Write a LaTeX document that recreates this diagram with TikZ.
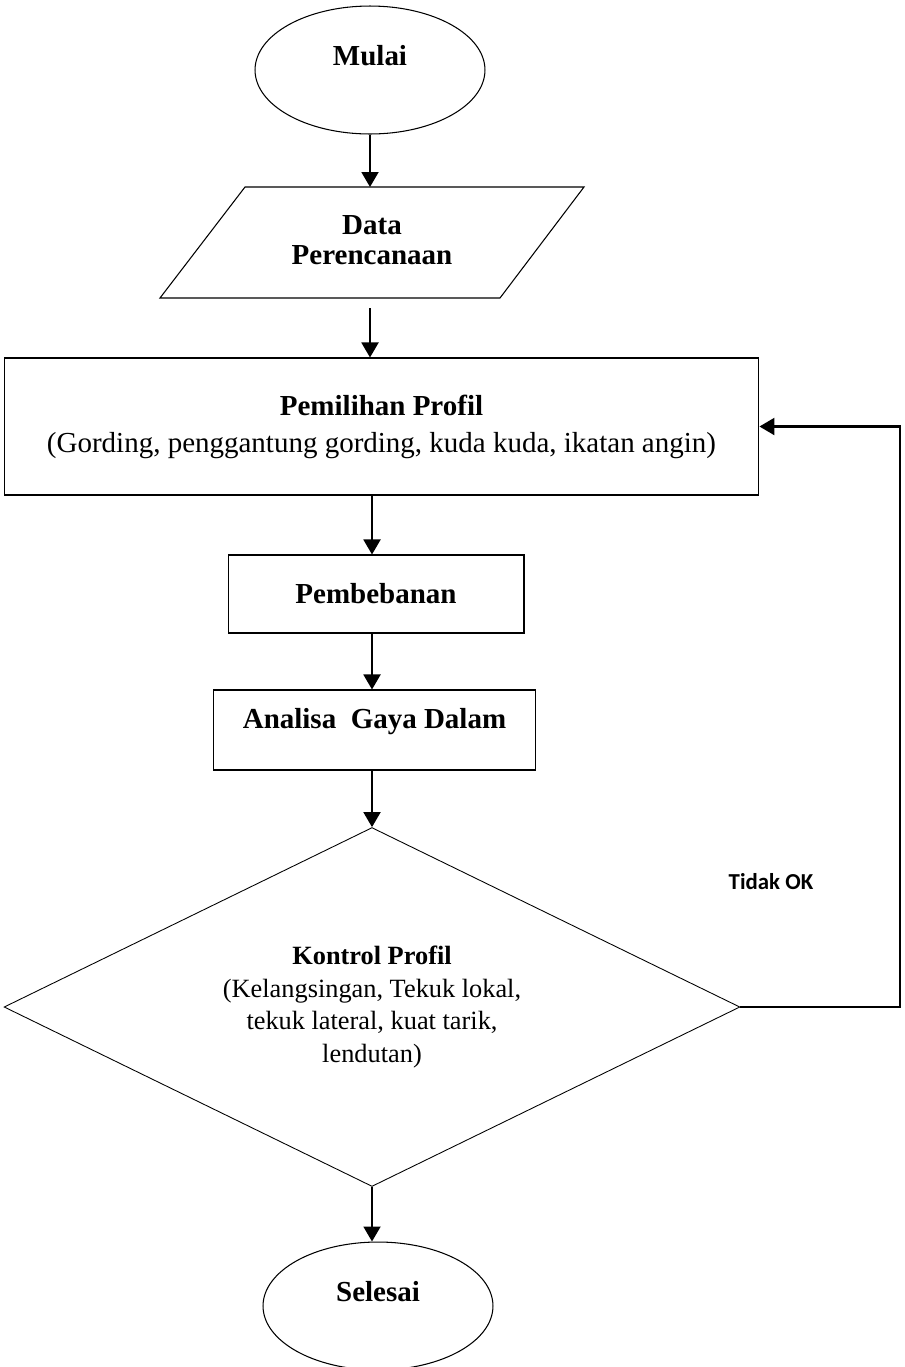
\documentclass[tikz,border=0pt]{standalone}
\usepackage{fontspec}
\setmainfont{Liberation Serif}
\newfontfamily\okfont{Carlito}
\usetikzlibrary{shapes.geometric,arrows.meta}

\begin{document}
\begin{tikzpicture}[
  x=0.02cm, y=-0.02cm,
  every node/.style={font=\fontsize{16.5}{20}\selectfont\bfseries, align=center},
  box/.style={draw, line width=0.6pt, rectangle},
  oval/.style={draw, line width=0.6pt, ellipse, minimum width=4.6cm, minimum height=2.56cm, text depth=0.6cm},
  arr/.style={-{Triangle[width=0.34cm,length=0.3cm]}, line width=1.1pt}
]
\useasboundingbox (0,0) rectangle (904,1367);

% start and input:
\node[oval] (mulai) at (370,70) {Mulai};
\draw[line width=0.6pt] (245,187) coordinate (datatop) -- (584,187) -- (500,298) -- (160,298) -- cycle;
\node[font=\fontsize{16.5}{17}\selectfont\bfseries] (data) at (372,240) {Data\\Perencanaan};
\coordinate (databot) at (370,308);

% process boxes:
\node[box, minimum width=15.1cm, minimum height=2.74cm, font=\fontsize{16.5}{21}\selectfont\bfseries, text depth=0.1cm]
  (profil) at (381.5,426.5) {Pemilihan Profil\\\mdseries (Gording, penggantung gording, kuda kuda, ikatan angin)};
\node[box, minimum width=5.92cm, minimum height=1.56cm] (beban) at (376,594) {Pembebanan};
\node[box, minimum width=6.46cm, minimum height=1.6cm, text depth=0.48cm] (analisa) at (374.5,730) {Analisa\ \ Gaya Dalam};

% decision and end:
\node[draw, line width=0.5pt, diamond, shape aspect=2, minimum width=14.72cm, minimum height=7.18cm,
  font=\fontsize{15}{18.5}\selectfont] (kontrol) at (372,1007)
  {\textbf{Kontrol Profil}\\(Kelangsingan, Tekuk lokal,\\tekuk lateral, kuat tarik,\\lendutan)};
\node[oval] (selesai) at (378,1306) {Selesai};
\node[font=\okfont\fontsize{13}{15}\selectfont\bfseries] (tidak) at (771,882) {Tidak OK};
\coordinate (balik) at (900,1007);

\draw[arr] (mulai.south) -- (mulai.south |- datatop);
\draw[arr] (databot) -- (databot |- profil.north);
\draw[arr] (profil.south -| kontrol.north) -- (beban.north -| kontrol.north);
\draw[arr] (beban.south -| kontrol.north) -- (analisa.north -| kontrol.north);
\draw[arr] (analisa.south -| kontrol.north) -- (kontrol.north);
\draw[arr] (kontrol.south) -- (kontrol.south |- selesai.north);
% loop back when not ok
\draw[arr, line width=1.3pt] (kontrol.east) -- (balik) |- (profil.east);

\end{tikzpicture}
\end{document}
